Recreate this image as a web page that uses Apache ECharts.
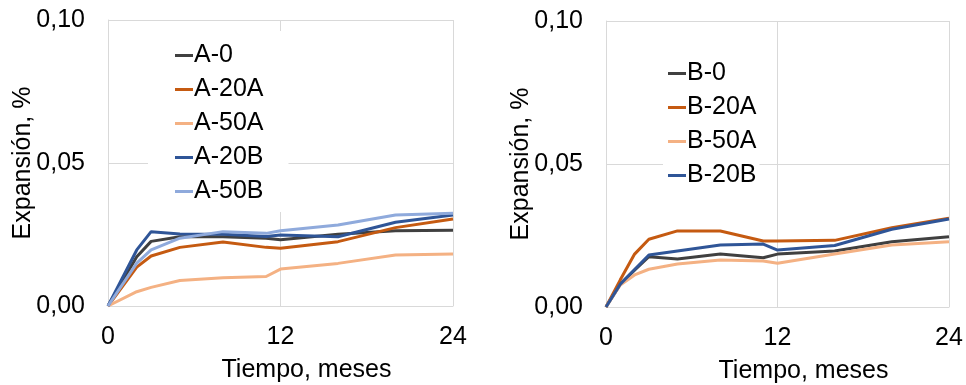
<!DOCTYPE html>
<html>
<head>
<meta charset="utf-8">
<style>
  html, body { margin: 0; padding: 0; background: #fff; }
  #chart { width: 966px; height: 385px; }
</style>
<script src="https://cdn.jsdelivr.net/npm/echarts@6/dist/echarts.min.js"></script>
</head>
<body>
<div id="chart"></div>
<script>
/* Expansión vs tiempo — two panels (series A, series B) */

// months measured
const monthsA = [0, 2, 3, 5, 8, 11, 12, 16, 20, 24];
const monthsB = [0, 1, 2, 3, 5, 8, 11, 12, 16, 20, 24];

// expansion, %
const A_0   = [0, 0.0172, 0.0226, 0.0242, 0.0242, 0.0237, 0.0232, 0.0251, 0.0263, 0.0265];
const A_20A = [0, 0.0136, 0.0175, 0.0205, 0.0224, 0.0205, 0.0202, 0.0225, 0.0274, 0.0304];
const A_50A = [0, 0.0050, 0.0065, 0.0089, 0.0099, 0.0103, 0.0129, 0.0149, 0.0178, 0.0182];
const A_20B = [0, 0.0196, 0.0260, 0.0252, 0.0251, 0.0243, 0.0248, 0.0242, 0.0293, 0.0318];
const A_50B = [0, 0.0150, 0.0196, 0.0237, 0.0260, 0.0254, 0.0263, 0.0283, 0.0318, 0.0324];

const B_0   = [0, 0.0080, 0.0129, 0.0176, 0.0168, 0.0185, 0.0172, 0.0185, 0.0196, 0.0228, 0.0246];
const B_20A = [0, 0.0095, 0.0185, 0.0237, 0.0266, 0.0266, 0.0231, 0.0231, 0.0233, 0.0277, 0.0310];
const B_50A = [0, 0.0077, 0.0112, 0.0132, 0.0150, 0.0164, 0.0161, 0.0153, 0.0185, 0.0217, 0.0228];
const B_20B = [0, 0.0080, 0.0131, 0.0182, 0.0196, 0.0217, 0.0220, 0.0199, 0.0215, 0.0272, 0.0308];

const xTicks = { min: 0, max: 24, interval: 12 };
const yTicks = { min: 0, max: 0.1, interval: 0.05 };

const FONT = "'Liberation Sans', Arial, sans-serif";
const INK = "#000";
const GRID = "#d9d9d9";
const C = {
  gray: "#404040", orange: "#c55a11", peach: "#f4b183", navy: "#2f5597", sky: "#8faadc",
};

const chart = echarts.init(document.getElementById("chart"), null, { renderer: "canvas" });

function xAxis(gridIndex) {
  return {
    gridIndex, type: "value", ...xTicks,
    name: "Tiempo, meses", nameLocation: "middle", nameGap: 52,
    nameTextStyle: { color: INK, fontFamily: FONT, fontSize: 25, padding: [0, 0, 0, 52] },
    axisLine: { show: true, lineStyle: { color: GRID } },
    axisTick: { show: false },
    axisLabel: { color: INK, fontFamily: FONT, fontSize: 25, margin: 19 },
    splitLine: { show: true, lineStyle: { color: GRID, width: 1 } },
  };
}

function yAxis(gridIndex) {
  return {
    gridIndex, type: "value", ...yTicks,
    name: "Expansión, %", nameLocation: "middle", nameGap: 72, nameMoveOverlap: false,
    nameTextStyle: { color: INK, fontFamily: FONT, fontSize: 25 },
    axisLine: { show: true, lineStyle: { color: GRID } },
    axisTick: { show: false },
    axisLabel: { color: INK, fontFamily: FONT, fontSize: 25, margin: 23,
      formatter: (v) => v.toFixed(2).replace(".", ",") },
    splitLine: { show: true, lineStyle: { color: GRID, width: 1 } },
  };
}

function line(name, months, vals, color, idx) {
  return {
    name, type: "line", xAxisIndex: idx, yAxisIndex: idx,
    symbol: "none", smooth: false,
    data: months.map((m, i) => [m, vals[i]]),
    lineStyle: { color, width: 3 },
    itemStyle: { color },
  };
}

function legend(names, left, top, padding) {
  return {
    orient: "vertical", left, top, padding,
    data: names,
    backgroundColor: "#fff",
    icon: "rect",
    itemWidth: 18, itemHeight: 3, itemGap: 9,
    textStyle: { color: INK, fontFamily: FONT, fontSize: 25, lineHeight: 25, padding: [0, 0, 0, -4] },
  };
}

chart.setOption({
  animation: false,
  grid: [
    { left: 108, top: 20, width: 345, height: 286, outerBoundsMode: "none" },
    { left: 606, top: 21, width: 343, height: 286, outerBoundsMode: "none" },
  ],
  xAxis: [xAxis(0), xAxis(1)],
  yAxis: [yAxis(0), yAxis(1)],
  legend: [
    legend(["A-0", "A-20A", "A-50A", "A-20B", "A-50B"], 148, 31, [12, 25, 8, 27]),
    legend(["B-0", "B-20A", "B-50A", "B-20B"], 663, 49, [12, 3, 8, 5]),
  ],
  series: [
    line("A-0", monthsA, A_0, C.gray, 0),
    line("A-20A", monthsA, A_20A, C.orange, 0),
    line("A-50A", monthsA, A_50A, C.peach, 0),
    line("A-20B", monthsA, A_20B, C.navy, 0),
    line("A-50B", monthsA, A_50B, C.sky, 0),
    line("B-0", monthsB, B_0, C.gray, 1),
    line("B-20A", monthsB, B_20A, C.orange, 1),
    line("B-50A", monthsB, B_50A, C.peach, 1),
    line("B-20B", monthsB, B_20B, C.navy, 1),
  ],
});
</script>
</body>
</html>
